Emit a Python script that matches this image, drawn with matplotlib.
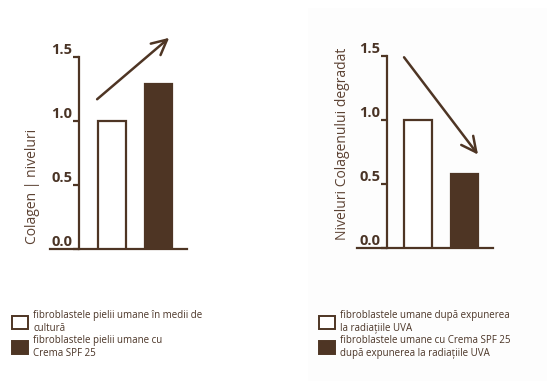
import matplotlib.pyplot as plt
from matplotlib.patches import Patch, Rectangle

# Data
yticks = [0.0, 0.5, 1.0, 1.5]
ytick_labels = ['0.0', '0.5', '1.0', '1.5']

left_values = [1.0, 1.29]
left_ylabel = 'Colagen | niveluri'
left_labels = ['fibroblastele pielii umane în medii de\ncultură',
               'fibroblastele pielii umane cu\nCrema SPF 25']
left_arrow = [(-0.32, 1.17), (1.23, 1.65)]

right_values = [1.0, 0.58]
right_ylabel = 'Niveluri Colagenului degradat'
right_labels = ['fibroblastele umane după expunerea\nla radiațiile UVA',
                'fibroblastele umane cu Crema SPF 25\ndupă expunerea la radiațiile UVA']
right_arrow = [(-0.3, 1.49), (1.29, 0.73)]

brown = '#4e3524'
text_brown = '#4a3426'
label_brown = '#5c4233'

plt.rcParams['font.family'] = ['Open Sans', 'DejaVu Sans']

W, H = 553, 387
fig = plt.figure(figsize=(W / 100, H / 100), dpi=100)
fig.patch.set_facecolor('white')

# faint panel behind the right chart
fig.patches.append(Rectangle((308 / W, 1 - 381 / H), (547 - 308) / W, (381 - 8) / H,
                             transform=fig.transFigure, facecolor='#fdfdfd',
                             edgecolor='none', zorder=-5))

PX_PER_UNIT = 128
BAR_STEP = 46.5
YMAX = 1.7


def panel(x0, x1, xspine, xbar0, ybase, values, arrow, ylabel, ylab_xy, labels, leg_xy):
    ax = fig.add_axes([x0 / W, (H - ybase) / H, (x1 - x0) / W, YMAX * PX_PER_UNIT / H])
    ax.patch.set_alpha(0)
    ax.set_xlim((x0 - xbar0) / BAR_STEP, (x1 - xbar0) / BAR_STEP)
    ax.set_ylim(0, YMAX)
    pos = list(range(len(values)))
    ax.bar(pos, values, width=0.6, color=['white', brown], edgecolor=brown,
           linewidth=1.6, zorder=3)
    for s in ['top', 'right']:
        ax.spines[s].set_visible(False)
    ax.spines['left'].set_position(('data', (xspine - xbar0) / BAR_STEP))
    ax.spines['left'].set_bounds(0, 1.5)
    for s in ['left', 'bottom']:
        ax.spines[s].set_color(brown)
        ax.spines[s].set_linewidth(1.6)
    ax.set_xticks([])
    ax.set_yticks(yticks)
    ax.set_yticklabels(ytick_labels, fontsize=10.5, fontweight='bold', color=text_brown)
    plt.setp(ax.get_yticklabels(), va='bottom')
    ax.tick_params(axis='y', direction='out', length=4, width=1.6, color=brown, pad=1)
    ax.annotate('', xy=arrow[1], xytext=arrow[0],
                arrowprops=dict(arrowstyle='->,head_length=0.9,head_width=0.45',
                                color=brown, lw=1.8, mutation_scale=12,
                                shrinkA=0, shrinkB=0))
    fig.text(ylab_xy[0] / W, 1 - ylab_xy[1] / H, ylabel, rotation=90,
             ha='center', va='center', fontsize=10, color=label_brown)
    handles = [Patch(facecolor='white', edgecolor=brown, linewidth=1.4),
               Patch(facecolor=brown, edgecolor=brown, linewidth=1.4)]
    fig.legend(handles, labels, loc='upper left',
               bbox_to_anchor=(leg_xy[0] / W, 1 - leg_xy[1] / H),
               frameon=False, fontsize=7, labelcolor=text_brown,
               handlelength=1.65, handleheight=1.65, handletextpad=0.55,
               labelspacing=0.15, borderpad=0, borderaxespad=0)
    return ax


panel(50, 187, 79, 112, 249, left_values, left_arrow, left_ylabel, (32, 186),
      left_labels, (12, 310))
panel(357, 493, 387, 418, 248, right_values, right_arrow, right_ylabel, (342, 144),
      right_labels, (319, 310))

plt.savefig('out.png', dpi=100)
